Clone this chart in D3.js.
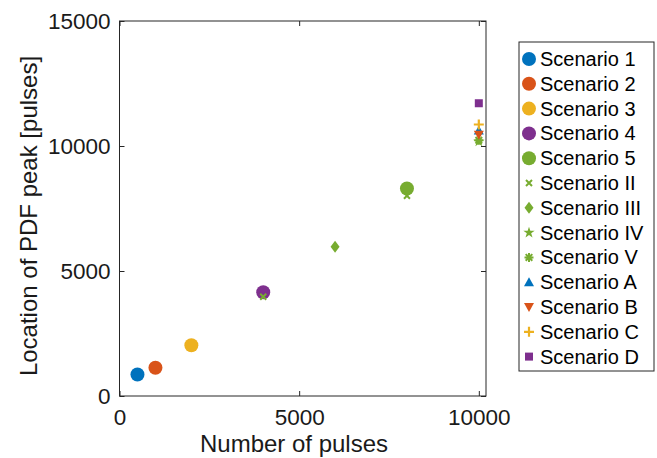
<!DOCTYPE html>
<html>
<head>
<meta charset="utf-8">
<title>PDF peak vs pulses</title>
<style>
  body { margin: 0; background: #fff; }
  svg { display: block; font-family: "Liberation Sans", Arial, Helvetica, sans-serif; }
  .axis text { font-size: 22.5px; fill: #1a1a1a; }
  .axis line { stroke: #262626; }
  .axis path { display: none; }
  .label { font-size: 24px; fill: #1a1a1a; }
  .legend text { font-size: 20px; fill: #000; }
</style>
</head>
<body>
<svg width="657" height="458"></svg>
<script src="https://d3js.org/d3.v7.min.js"></script>
<script>
// data
var scenarioNames = ["Scenario 1", "Scenario 2", "Scenario 3", "Scenario 4", "Scenario 5",
  "Scenario II", "Scenario III", "Scenario IV", "Scenario V",
  "Scenario A", "Scenario B", "Scenario C", "Scenario D"];
var pulses = [[500], [1000], [2000], [4000], [8000],
  [4000, 8000], [6000], [10000], [10000],
  [10000], [10000], [10000], [10000]];
var peaks = [[860], [1130], [2030], [4150], [8300],
  [3970, 8010], [5970], [10180], [10230],
  [10620], [10450], [10860], [11710]];
var xTicks = [0, 5000, 10000];
var yTicks = [0, 5000, 10000, 15000];

// styles
var markers = ["circle", "circle", "circle", "circle", "circle",
  "x", "diamond", "star", "asterisk", "up", "down", "plus", "square"];
var colors = ["#0072BD", "#D95319", "#EDB120", "#7E2F8E", "#77AC30",
  "#77AC30", "#77AC30", "#77AC30", "#77AC30",
  "#0072BD", "#D95319", "#EDB120", "#7E2F8E"];

var svg = d3.select("svg");
var plot = {left: 119.5, right: 486, top: 21, bottom: 396};

var x = d3.scaleLinear().domain([0, 10200]).range([plot.left, plot.right]);
var y = d3.scaleLinear().domain([0, 15000]).range([plot.bottom, plot.top]);

// axes (ticks point inward, box on)
svg.append("g").attr("class", "axis")
  .attr("transform", "translate(0," + plot.bottom + ")")
  .call(d3.axisBottom(x).tickValues(xTicks).tickFormat(d3.format("d")).tickSizeInner(-5).tickSizeOuter(0).tickPadding(13));
svg.append("g").attr("class", "axis")
  .attr("transform", "translate(0," + plot.top + ")")
  .call(d3.axisTop(x).tickValues(xTicks).tickFormat("").tickSizeInner(-5).tickSizeOuter(0));
svg.append("g").attr("class", "axis")
  .attr("transform", "translate(" + plot.left + ",0)")
  .call(d3.axisLeft(y).tickValues(yTicks).tickFormat(d3.format("d")).tickSizeInner(-5).tickSizeOuter(0).tickPadding(9));
svg.append("g").attr("class", "axis")
  .attr("transform", "translate(" + plot.right + ",0)")
  .call(d3.axisRight(y).tickValues(yTicks).tickFormat("").tickSizeInner(-5).tickSizeOuter(0));

svg.append("rect")
  .attr("x", plot.left).attr("y", plot.top)
  .attr("width", plot.right - plot.left).attr("height", plot.bottom - plot.top)
  .attr("fill", "none").attr("stroke", "#262626").attr("stroke-width", 1);

svg.append("text").attr("class", "label")
  .attr("x", 294).attr("y", 452)
  .attr("text-anchor", "middle").text("Number of pulses");
svg.append("text").attr("class", "label")
  .attr("transform", "translate(37,216) rotate(-90)")
  .attr("text-anchor", "middle").text("Location of PDF peak [pulses]");

// draws one marker at (0,0)
function drawMarker(g, type, color) {
  if (type === "circle") {
    g.append("circle").attr("r", 7).attr("fill", color);
  } else if (type === "x") {
    g.append("path").attr("d", "M-3,-3L3,3M-3,3L3,-3")
      .attr("stroke", color).attr("stroke-width", 2).attr("fill", "none");
  } else if (type === "diamond") {
    g.append("path").attr("d", "M0,-6L4.5,0L0,6L-4.5,0Z").attr("fill", color);
  } else if (type === "star") {
    g.append("path").attr("d", d3.symbol(d3.symbolStar, 40)()).attr("fill", color);
  } else if (type === "asterisk") {
    g.append("path").attr("d", "M-4.5,0L4.5,0M0,-4.5L0,4.5M-3.3,-3.3L3.3,3.3M-3.3,3.3L3.3,-3.3")
      .attr("stroke", color).attr("stroke-width", 2).attr("fill", "none");
  } else if (type === "up") {
    g.append("path").attr("d", "M0,-5L5,4L-5,4Z").attr("fill", color);
  } else if (type === "down") {
    g.append("path").attr("d", "M0,5L5,-4L-5,-4Z").attr("fill", color);
  } else if (type === "plus") {
    g.append("path").attr("d", "M-5,0L5,0M0,-5L0,5")
      .attr("stroke", color).attr("stroke-width", 2.2).attr("fill", "none");
  } else if (type === "square") {
    g.append("rect").attr("x", -4).attr("y", -4).attr("width", 8).attr("height", 8).attr("fill", color);
  }
}

// points, in drawing order
scenarioNames.forEach(function(name, i) {
  pulses[i].forEach(function(px, j) {
    var g = svg.append("g").attr("transform", "translate(" + x(px) + "," + y(peaks[i][j]) + ")");
    drawMarker(g, markers[i], colors[i]);
  });
});

// legend
var legend = svg.append("g").attr("class", "legend");
legend.append("rect")
  .attr("x", 519).attr("y", 42).attr("width", 135).attr("height", 329)
  .attr("fill", "#fff").attr("stroke", "#262626").attr("stroke-width", 1);
scenarioNames.forEach(function(name, i) {
  var row = legend.append("g").attr("transform", "translate(0," + (59 + i * 24.8) + ")");
  drawMarker(row.append("g").attr("transform", "translate(529,0)"), markers[i], colors[i]);
  row.append("text").attr("x", 540).attr("y", 0).attr("dy", "0.35em").text(name);
});
</script>
</body>
</html>
